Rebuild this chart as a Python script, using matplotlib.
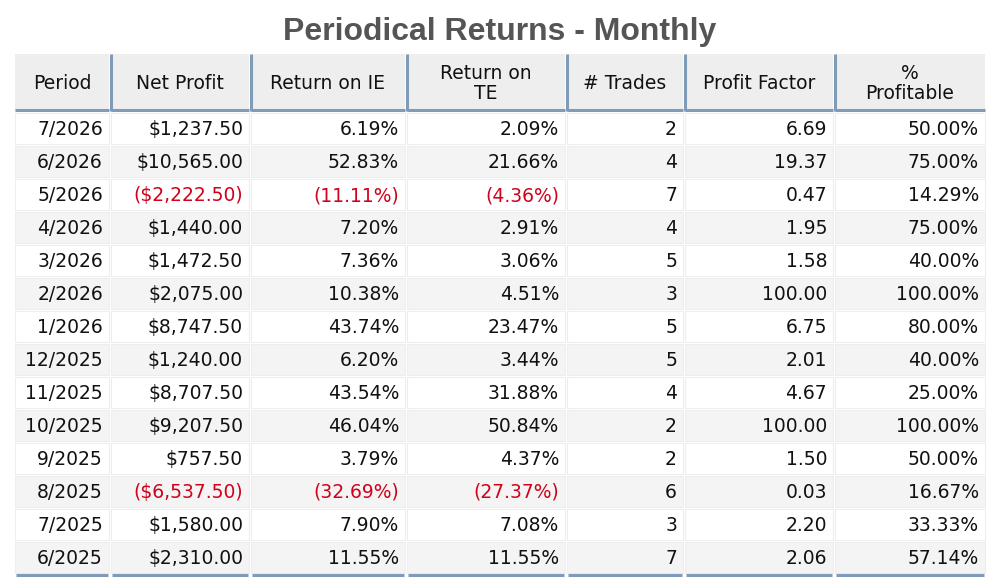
import matplotlib.pyplot as plt
from matplotlib.patches import Rectangle

headers = ["Period", "Net Profit", "Return on IE", "Return on\nTE", "# Trades", "Profit Factor", "%\nProfitable"]
periods = ["7/2026", "6/2026", "5/2026", "4/2026", "3/2026", "2/2026", "1/2026", "12/2025",
           "11/2025", "10/2025", "9/2025", "8/2025", "7/2025", "6/2025"]
net_profit = [1237.50, 10565.00, -2222.50, 1440.00, 1472.50, 2075.00, 8747.50, 1240.00,
              8707.50, 9207.50, 757.50, -6537.50, 1580.00, 2310.00]
ret_ie = [6.19, 52.83, -11.11, 7.20, 7.36, 10.38, 43.74, 6.20, 43.54, 46.04, 3.79, -32.69, 7.90, 11.55]
ret_te = [2.09, 21.66, -4.36, 2.91, 3.06, 4.51, 23.47, 3.44, 31.88, 50.84, 4.37, -27.37, 7.08, 11.55]
trades = [2, 4, 7, 4, 5, 3, 5, 5, 4, 2, 2, 6, 3, 7]
profit_factor = [6.69, 19.37, 0.47, 1.95, 1.58, 100.00, 6.75, 2.01, 4.67, 100.00, 1.50, 0.03, 2.20, 2.06]
pct_profitable = [50.00, 75.00, 14.29, 75.00, 40.00, 100.00, 80.00, 40.00, 25.00, 100.00, 50.00, 16.67, 33.33, 57.14]

def money(v):
    s = "${:,.2f}".format(abs(v))
    return "(" + s + ")" if v < 0 else s

def pct(v):
    s = "{:.2f}%".format(abs(v))
    return "(" + s + ")" if v < 0 else s

col_x = [14, 110, 250, 406, 566, 684, 834, 986]
head_top, head_bot = 54, 111
row_h = 33.0
blue = "#7f9bb8"
red = "#d0021b"

fig = plt.figure(figsize=(10, 5.88), dpi=100)
ax = fig.add_axes([0, 0, 1, 1])
ax.set_xlim(0, 1000)
ax.set_ylim(588, 0)
ax.axis("off")

ax.text(500, 32, "Periodical Returns - Monthly", ha="center", va="center",
        fontsize=23, fontweight="bold", color="#555555", family="Liberation Sans")

font = dict(family="DejaVu Sans", fontsize=13.5, color="#111111")

# header
for j, h in enumerate(headers):
    x0, x1 = col_x[j], col_x[j + 1]
    ax.add_patch(Rectangle((x0 + 1, head_top), x1 - x0 - 2, head_bot - head_top,
                           fc="#eeeeee", ec="none"))
    ax.plot([x0 + 1, x1 - 1], [head_bot - 1, head_bot - 1], color=blue, lw=2.2, solid_capstyle="butt")
    if j > 0:
        ax.plot([x0 + 1, x0 + 1], [head_top, head_bot], color=blue, lw=2.2, solid_capstyle="butt")
    ax.text((x0 + x1) / 2, (head_top + head_bot) / 2 + 1, h, ha="center", va="center",
            linespacing=1.1, **font)

# body
for i in range(len(periods)):
    y0 = head_bot + 1 + i * row_h
    vals = [periods[i], money(net_profit[i]), pct(ret_ie[i]), pct(ret_te[i]),
            str(trades[i]), "{:.2f}".format(profit_factor[i]), "{:.2f}%".format(pct_profitable[i])]
    neg = [False, net_profit[i] < 0, ret_ie[i] < 0, ret_te[i] < 0, False, False, False]
    bg = "#ffffff" if i % 2 == 0 else "#f4f4f4"
    for j, v in enumerate(vals):
        x0, x1 = col_x[j], col_x[j + 1]
        ax.add_patch(Rectangle((x0 + 1, y0 + 1), x1 - x0 - 2, row_h - 2, fc=bg, ec="#eeeeee", lw=0.8))
        f = dict(font)
        if neg[j]:
            f["color"] = red
        ax.text(x1 - 7, y0 + row_h / 2 + 1, v, ha="right", va="center", **f)

y_end = head_bot + 1 + len(periods) * row_h
for j in range(7):
    ax.plot([col_x[j] + 2, col_x[j + 1] - 2], [y_end + 1, y_end + 1], color=blue, lw=2.2,
            solid_capstyle="butt")

fig.savefig("out.png", dpi=100)
